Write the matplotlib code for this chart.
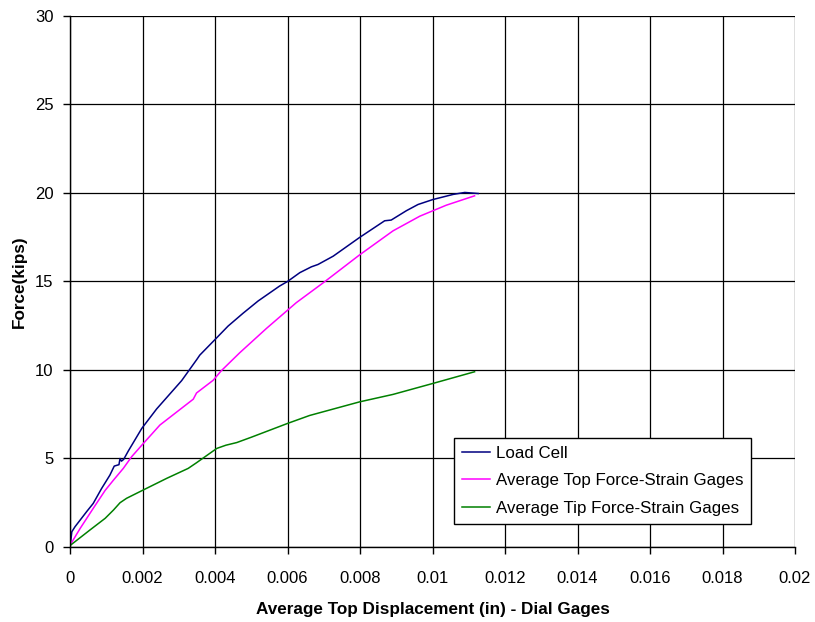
import matplotlib
matplotlib.use("Agg")
import matplotlib.pyplot as plt
from matplotlib.ticker import MultipleLocator, FuncFormatter

plt.rcParams['font.family'] = ['Liberation Sans', 'DejaVu Sans']

# Average top displacement (in) and measured forces (kips)
load_cell_x = [0.0, 0.00003, 0.00005, 0.00014, 0.00046, 0.00064, 0.00087, 0.0011, 0.00122,
               0.00130, 0.00135, 0.00138, 0.00142, 0.00148, 0.00161, 0.00198, 0.00239,
               0.00308, 0.0035, 0.00358, 0.0040, 0.00436, 0.00477, 0.00519, 0.00578,
               0.0060, 0.00634, 0.00666, 0.00684, 0.00726, 0.00799, 0.00868, 0.00886,
               0.00928, 0.0096, 0.01001, 0.01057, 0.01089, 0.01126]
load_cell_y = [0.0, 0.5, 0.86, 1.15, 2.0, 2.46, 3.3, 4.06, 4.57,
               4.62, 4.65, 5.0, 4.85, 4.95, 5.43, 6.7, 7.8,
               9.4, 10.6, 10.84, 11.72, 12.48, 13.2, 13.9, 14.74,
               15.0, 15.5, 15.83, 15.96, 16.43, 17.49, 18.43, 18.47,
               19.0, 19.35, 19.63, 19.92, 20.03, 19.97]

top_gage_x = [0.0, 0.00028, 0.00064, 0.00097, 0.0012, 0.00147, 0.0017, 0.00198, 0.00248,
              0.0034, 0.00349, 0.00395, 0.00417, 0.00468, 0.00542, 0.00624, 0.00702,
              0.00798, 0.00891, 0.00965, 0.01038, 0.01116]
top_gage_y = [0.1, 1.05, 2.18, 3.2, 3.78, 4.44, 5.1, 5.75, 6.89,
              8.35, 8.7, 9.42, 9.95, 10.97, 12.35, 13.8, 14.98,
              16.49, 17.86, 18.69, 19.31, 19.84]

tip_gage_x = [0.0, 0.00055, 0.00097, 0.0012, 0.00138, 0.00156, 0.00202, 0.00267, 0.00326,
              0.00349, 0.00405, 0.0043, 0.0046, 0.0050, 0.0060, 0.00661, 0.00799,
              0.00891, 0.01001, 0.01116]
tip_gage_y = [0.08, 0.96, 1.62, 2.09, 2.5, 2.75, 3.22, 3.88, 4.44,
              4.76, 5.57, 5.75, 5.9, 6.2, 6.98, 7.43, 8.2,
              8.62, 9.24, 9.9]

fig = plt.figure(figsize=(8.15, 6.22), dpi=100)
ax = fig.add_axes([0.0859, 0.1206, 0.8896, 0.8537])

ax.plot(load_cell_x, load_cell_y, color='#000080', lw=1.1, label='Load Cell')
ax.plot(top_gage_x, top_gage_y, color='#FF00FF', lw=1.1,
        label='Average Top Force-Strain Gages')
ax.plot(tip_gage_x, tip_gage_y, color='#008000', lw=1.1,
        label='Average Tip Force-Strain Gages')

ax.set_xlim(0, 0.02)
ax.set_ylim(0, 30)
ax.xaxis.set_major_locator(MultipleLocator(0.002))
ax.yaxis.set_major_locator(MultipleLocator(5))
ax.xaxis.set_major_formatter(FuncFormatter(lambda v, p: '0' if abs(v) < 1e-12 else f'{v:.3f}'.rstrip('0')))
ax.grid(True, color='black', lw=0.9)
ax.set_axisbelow(True)

for side in ['top', 'right']:
    ax.spines[side].set_visible(False)
for side in ['left', 'bottom']:
    ax.spines[side].set_color('black')
    ax.spines[side].set_linewidth(1.0)

ax.tick_params(axis='both', direction='out', length=5, width=1, labelsize=12,
               colors='black')
ax.tick_params(axis='x', pad=12)
ax.tick_params(axis='y', pad=7)

ax.set_xlabel('Average Top Displacement (in) - Dial Gages', fontsize=12.3,
              fontweight='bold', labelpad=12)
ax.set_ylabel('Force(kips)', fontsize=12.3, fontweight='bold', labelpad=5.5)

leg = ax.legend(loc='upper left', bbox_to_anchor=(0.5297, 0.2053), fontsize=12.2,
                frameon=True, fancybox=False, edgecolor='black', framealpha=1,
                borderaxespad=0, handlelength=1.7, handletextpad=0.3,
                borderpad=0.45, labelspacing=0.75)
leg.get_frame().set_linewidth(1.0)

fig.savefig('out.png', dpi=100)
